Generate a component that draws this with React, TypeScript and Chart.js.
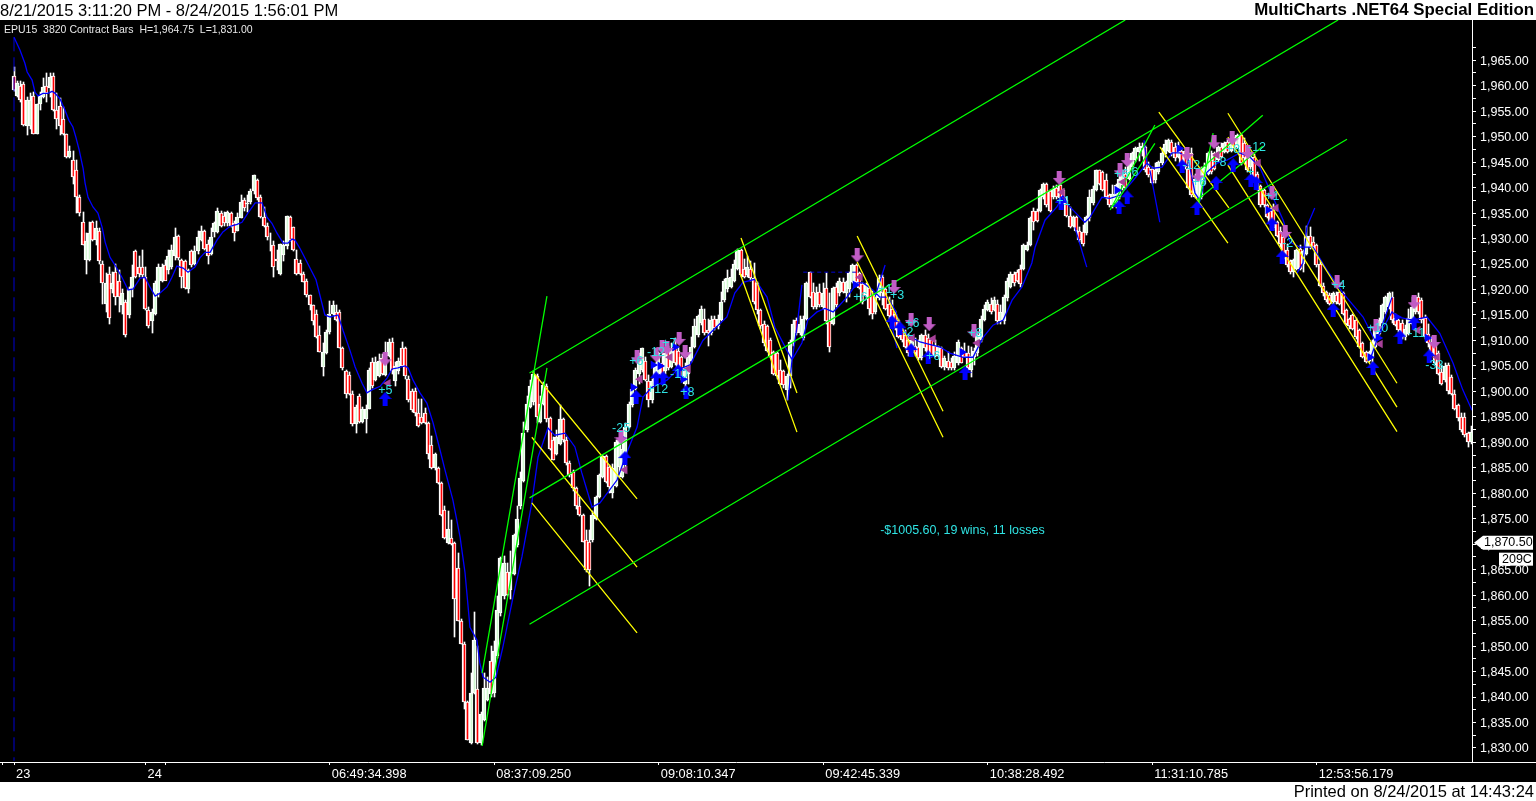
import { useEffect, useRef } from 'react';
import { Chart, registerables } from 'chart.js';

Chart.register(...registerables);

// one row per 10 bars
const opens = [
  1962,1958,1960,1960.25,1952,1952,1958,1950.5,1956.5,1957.75,
  1960,1959.5,1962,1955.25,1956,1953.5,1950.5,1946,1945.5,1943.5,
  1938.25,1933.25,1925.75,1925.75,1933.25,1929.75,1931.5,1925,1917.25,1923,
  1920,1923.5,1921.75,1917,1917.5,1915,1920,1927.5,1924.5,1924.5,
  1922.5,1916,1913.75,1915.25,1919.25,1921.75,1924.75,1923.75,1924.5,1926.5,
  1930.5,1925.75,1925.5,1920,1927.5,1925,1927.5,1929.75,1931.5,1929,
  1927,1931.25,1931.25,1935,1934.5,1933,1935,1933,1931.5,1934,
  1937.5,1936.75,1937.25,1939.25,1941.5,1938.25,1934.25,1932.5,1927.75,1928.75,
  1926,1923,1926.75,1928.5,1934.25,1932.25,1926,1925.25,1923,1921.75,
  1919,1917,1915.25,1911,1904.75,1907.5,1911.75,1915.25,1915.5,1915.5,
  1908.5,1904,1903.25,1899.5,1893.5,1899,1894,1894.5,1896.5,1905.75,
  1902.25,1903,1906.5,1903.25,1907,1909.75,1902,1904,1908.5,1908.5,
  1902.5,1900,1900,1895.75,1895,1895.75,1893.75,1889.5,1885,1885,
  1882,1876.75,1870.25,1871.25,1870.25,1865.25,1855,1850.5,1839,1831,
  1840.75,1841.5,1831,1835.5,1839.5,1847,1840.75,1848,1856.5,1859.75,
  1864.5,1861,1864.25,1869.75,1877.5,1882.5,1892.5,1897,1898,1903,
  1894,1897.5,1901,1894.75,1890.5,1887.75,1889.75,1894.5,1890.5,1886,
  1884.25,1881,1877.5,1875.75,1870.75,1870.5,1870.75,1875,1879.25,1883.25,
  1887.25,1885.25,1880,1881.5,1885.25,1883.25,1887.75,1893,1897.25,1900.5,
  1903.5,1904.25,1906,1902,1898.25,1901.5,1903.5,1905.5,1904,1908.5,
  1904.75,1908.75,1908,1906.75,1901.5,1903.5,1906,1908.75,1911,1913.5,
  1914.25,1912,1911.5,1914.25,1912.75,1914,1918,1920,1920.5,1921.75,
  1924,1927.75,1924,1922.75,1924,1922.25,1921.25,1916,1913.25,1912.75,
  1910,1907.75,1907.5,1904.25,1904,1900.25,1903,1909.5,1914,1911.5,
  1910.5,1914.25,1923.5,1919.5,1916.5,1919.5,1916.5,1920.25,1913.75,1913.25,
  1920.5,1919.25,1921.5,1919.25,1920,1921.5,1924.75,1923.25,1921,1919,
  1920.25,1919,1915.5,1918.25,1922.5,1920,1917.25,1916.25,1915.25,1914,
  1912,1911,1910,1907.75,1909,1908.75,1906.5,1911,1910.5,1910,
  1909,1907,1908.5,1904.75,1906,1905.75,1904.5,1905.5,1908.5,1907.75,
  1907.5,1904.25,1906.75,1907.5,1910,1914,1916,1917.25,1916,1917.25,
  1913.75,1913.75,1918.25,1920.5,1923,1923.5,1924,1924,1927.75,1928.75,
  1935.5,1935.5,1935.5,1938.25,1940.75,1939.25,1938.25,1940,1940.5,1939.5,
  1937.5,1934.5,1932.5,1934.25,1931.5,1931.25,1931,1934,1937,1939.5,
  1943.5,1943,1941.5,1938.5,1936.5,1937,1938.25,1940.5,1942.75,1941.75,
  1944,1945.5,1947,1947.75,1948,1944,1943.75,1941.5,1943,1944.75,
  1946.5,1947.25,1949,1948,1946,1947.25,1947.25,1943.75,1946.75,1938.25,
  1938,1938.25,1940.75,1942.75,1945.5,1946.75,1945.5,1948,1947,1949,
  1947.25,1949.5,1948,1950.25,1948.75,1947,1944,1946,1942.75,1940.25,
  1939.5,1936.5,1935.5,1936.25,1933.25,1931.5,1930.25,1927.75,1925.5,1923.5,
  1924,1928,1925,1927,1930.5,1929.25,1928.75,1925,1920.75,1919.5,
  1919,1917.5,1919,1919.5,1919.25,1916,1914.25,1915,1914,1912,
  1909.5,1907.75,1906,1906.75,1908.75,1911.25,1913.5,1915.5,1916.5,1918.5,
  1914.5,1914,1913.5,1910.75,1911.25,1913.25,1915.5,1918.5,1918,1914.5,
  1911.25,1909.75,1909.5,1907.5,1903.75,1902.25,1905.25,1902.75,1899.5,1897.25,
  1895,1895,1891.75,1890,
];

const closes = [
  1959.25,1960.5,1957.25,1952.25,1957.25,1957.25,1950.5,1956.5,1958,1959.75,
  1958.5,1961.75,1955.25,1953.5,1952,1950.5,1946,1947.25,1942,1938.25,
  1935,1928.75,1929.5,1931,1929.75,1932,1925.5,1921.25,1921.25,1914.5,
  1921.25,1918.5,1918.5,1919.25,1911,1920,1922.5,1922.5,1923,1922.75,
  1916.25,1912.75,1915.5,1921.25,1924.5,1924.5,1921.75,1926.5,1927.75,1930.25,
  1926.25,1922.5,1920.25,1923.75,1924.75,1927.5,1930.25,1931.5,1928,1926.5,
  1930.25,1933,1935.5,1932.5,1933,1935.25,1932.5,1931,1934.25,1937.25,
  1936,1937,1939.25,1942.5,1938,1934.25,1932.5,1930.25,1927.75,1924.5,
  1925.5,1929,1928.75,1934.5,1929.75,1927.75,1923,1923,1921.5,1919,
  1917,1913.75,1910.75,1907.75,1907.75,1911.75,1915.25,1917,1914,1908.5,
  1904.5,1899.5,1899.5,1893.5,1897,1894,1896.5,1896.5,1904.25,1901,
  1905.75,1906,1903.5,1907,1909.75,1904,1905,1906,1905,1903,
  1898.25,1896.25,1895.75,1893.25,1893.75,1893.75,1887.75,1885,1887.75,1882,
  1875.75,1871.25,1873,1870,1859.25,1855,1850.5,1839,1831.5,1840.75,
  1851.25,1831,1836.75,1841.75,1841.75,1840.5,1849,1857,1867.25,1866.25,
  1860,1864.5,1871.75,1875,1883,1891.75,1897.5,1901,1903.5,1895,
  1897.5,1901.25,1894.5,1888.75,1886.5,1891,1894.5,1890.5,1886,1883.5,
  1881,1877.5,1875.75,1870.5,1865,1865,1875.75,1879.25,1883.5,1887.25,
  1882.25,1881.25,1885,1890,1890.5,1888.75,1893,1897.5,1900.5,1904.25,
  1907,1908.5,1902.25,1898.25,1902,1904.75,1907.5,1903,1907.5,1904.5,
  1908,1905.5,1903.5,1903,1904.75,1906.75,1908.75,1912.75,1914.75,1916.25,
  1911.5,1911.5,1914,1912.5,1914.25,1917.5,1921.75,1922.25,1922.5,1925,
  1927.75,1922.75,1922.5,1924.5,1922.25,1917.5,1916,1912.75,1909.5,1908,
  1907,1903.5,1903,1901.5,1901.25,1903,1909.75,1913.25,1911.5,1913.25,
  1914.25,1921.25,1918.5,1916.5,1919.25,1917,1919.25,1913.75,1908.75,1920.25,
  1917,1921.75,1919.5,1921.5,1923.25,1924.75,1921.5,1920.25,1917.5,1921,
  1916.25,1915.25,1919,1922.25,1919.25,1916.25,1914.75,1914,1912.5,1910.75,
  1910,1908.75,1907.5,1910,1907.5,1906.5,1911,1908.5,1907.5,1907,
  1907,1908.75,1904.75,1906.5,1904.5,1904.5,1907,1909.75,1905.5,1906.75,
  1904.5,1907,1908,1911,1914.25,1916.25,1917.5,1915.5,1918,1913.75,
  1915.5,1918.5,1921.75,1923,1921.25,1921.75,1921,1928.75,1928.75,1934,
  1933.25,1933.5,1939.5,1940.75,1936.5,1935.5,1939.75,1938.25,1938,1937.25,
  1934.5,1932.25,1934.25,1931.5,1929.75,1929,1934.25,1938.25,1939.75,1943.5,
  1940.75,1939.5,1938.25,1936.5,1938.75,1940.5,1941.75,1942.75,1940,1944.75,
  1946.75,1947.75,1948,1948.25,1943.5,1942.5,1941,1943.5,1945,1946.75,
  1948.5,1949.25,1946.75,1945.75,1948.25,1944.75,1944,1940,1938.5,1941.75,
  1941.75,1943.5,1944,1946.75,1943,1943.75,1948,1946,1948.75,1947,
  1949.5,1947.75,1950.25,1944.75,1945.75,1943.5,1946.5,1941.5,1939.75,1936.5,
  1936.5,1934.25,1933,1932,1930.5,1929,1926,1924.75,1923.5,1925.75,
  1927.75,1924,1927.5,1930.5,1928.25,1928.25,1924.75,1920.75,1919.25,1918,
  1917.25,1919.25,1917.5,1917.25,1915.25,1913.25,1912.75,1912.25,1910.75,1908.75,
  1906.75,1905.75,1907.75,1909.75,1912.5,1914,1917,1918.5,1919.25,1914,
  1913,1912,1910.75,1912.25,1914.5,1916.5,1918,1915.5,1914,1910.75,
  1909.5,1907.5,1905.5,1903.5,1901.5,1905,1900,1899.5,1896.5,1894.75,
  1892.5,1891.5,1890,1892,
];

const highs = [
  1963.75,1961,1961,1960.75,1957.75,1958.5,1958.75,1956.5,1958.75,1961.5,
  1962.5,1962.5,1962.5,1958.5,1957.5,1955.75,1950.5,1948.25,1947.25,1945.5,
  1938.5,1935.25,1931,1933.25,1933.5,1933.5,1932,1925.5,1923.25,1924.5,
  1923.5,1925,1923.75,1920,1918,1920.5,1924.75,1927.75,1926.5,1927.75,
  1924.5,1916.5,1916.25,1921.75,1925,1925,1925.75,1927.75,1928.75,1932,
  1930.75,1926,1925.75,1924,1927.75,1928.5,1931.5,1932.5,1931.75,1929.75,
  1932,1933.25,1936,1935.5,1935.25,1935.5,1935.25,1933.5,1935,1938.5,
  1938,1938.5,1939.75,1942.5,1941.75,1938.5,1936.25,1933,1931,1929.5,
  1927.75,1929,1929.5,1934.5,1934.5,1932.25,1927.75,1925.75,1923.5,1922,
  1919,1917,1916,1912.75,1909.5,1912,1917.75,1917.75,1917,1916,
  1908.75,1904.25,1903.75,1900,1897.25,1899.5,1897,1897.25,1904.5,1906.5,
  1906.75,1907.25,1907.25,1909.75,1910.25,1910.5,1905.75,1906.5,1909.75,1908.75,
  1903,1900.5,1900.75,1898.5,1898.5,1896.75,1894,1891.25,1888,1885.25,
  1882.25,1877.5,1876.5,1874.75,1870.5,1868.25,1855.25,1850.75,1839.25,1844.75,
  1856.75,1850,1837,1844.75,1844,1850,1851,1859.75,1867.5,1867.75,
  1866.25,1868.75,1872,1877.5,1884.25,1894,1899,1902.25,1904,1903.5,
  1899,1901.75,1901.5,1895,1891,1892.5,1897.25,1894.75,1891,1886.25,
  1884.5,1881.25,1879.25,1876,1872.75,1872.75,1876.5,1879.5,1883.75,1887.5,
  1887.5,1885.5,1885.75,1890.5,1890.75,1890.5,1893.75,1898,1901,1904.5,
  1907.5,1908.5,1906.75,1903.25,1902.5,1905.5,1907.75,1908.75,1908.75,1909,
  1909.5,1910.5,1908.75,1907,1905.5,1907.5,1910.75,1914.25,1915,1916.75,
  1916.25,1914.25,1914.75,1914.75,1915,1919.5,1922,1923.75,1924,1925.75,
  1928,1928,1926,1926.5,1925.5,1925.25,1921.5,1916.25,1913.75,1913,
  1910.5,1908,1907.75,1906.25,1904.25,1903.5,1910,1914,1914.5,1914.75,
  1914.75,1921.5,1923.5,1921.25,1920.5,1921,1921.25,1923.25,1919.25,1920.5,
  1921.25,1922.25,1922.25,1921.75,1923.5,1925,1925,1923.5,1921.25,1921.25,
  1920.5,1919.75,1919.25,1922.75,1922.75,1920.25,1918.5,1918,1915.75,1914.25,
  1912.25,1912,1911.25,1910.75,1910.5,1910,1911.25,1912,1911.25,1910.5,
  1910,1909,1908.75,1907,1907.75,1906.5,1907.75,1910,1908.75,1909.5,
  1909,1908.75,1908.5,1911.75,1914.75,1917,1918,1918.25,1918.5,1918,
  1917,1919,1922.25,1923.5,1923.5,1923.75,1924.75,1929,1929.25,1934.25,
  1936,1935.75,1939.75,1941,1941,1939.5,1940.25,1940.5,1940.75,1939.75,
  1938.25,1936.25,1934.5,1934.5,1932.25,1932.75,1934.5,1939.5,1940.25,1943.5,
  1943.5,1943.25,1942.75,1938.75,1940.5,1940.75,1943.5,1943.5,1944,1945.75,
  1947,1948,1948.75,1948.75,1948.25,1945,1944,1944.75,1945.25,1947.75,
  1949.25,1949.5,1949.25,1948.75,1949,1947.75,1947.75,1945.5,1947.75,1942.75,
  1943.5,1944,1944.75,1947,1947.25,1947,1948.25,1948.75,1949,1949.25,
  1950,1950,1950.5,1950.5,1949.75,1947.25,1946.75,1946.5,1943,1940.5,
  1939.75,1936.75,1936,1936.75,1933.5,1932.25,1930.75,1929,1925.75,1926,
  1928,1928.75,1927.75,1932.5,1932.25,1930.25,1929,1925.5,1921.25,1919.75,
  1919.25,1919.5,1919.5,1919.75,1919.5,1916.25,1914.5,1915.25,1914.5,1912.25,
  1909.75,1908,1908,1910,1913,1914.5,1917.25,1918.75,1919.5,1919.5,
  1915.25,1914.25,1914,1913,1916.25,1918.5,1918.75,1919.25,1918.25,1915,
  1913.25,1910.75,1909.75,1908,1905.25,1905.5,1905.5,1903.25,1900.25,1897.5,
  1895.75,1895.75,1892,1893.25,
];

const lows = [
  1959,1957.75,1956.75,1952,1950.25,1951.5,1950.5,1950.5,1955.25,1957.5,
  1956.75,1957.75,1955,1951.5,1950.25,1950.25,1945.75,1945.75,1940.75,1935,
  1934.5,1928.75,1923,1925.5,1929.5,1928.75,1925,1917.25,1915.5,1913.25,
  1919.25,1917,1915.5,1915.25,1910.75,1914.5,1918.5,1922.25,1922.5,1922.5,
  1916,1912.5,1911.5,1915,1918.5,1921.5,1922.25,1923,1924,1925.75,
  1925.75,1920.25,1920,1919.25,1924.5,1924.75,1927,1929.5,1927.75,1925,
  1926.75,1930.25,1931,1932.25,1932.5,1932.5,1932.25,1929.5,1931.5,1934,
  1935.5,1935.25,1936.75,1938.75,1937.5,1934,1932.25,1929.75,1927.5,1922.5,
  1923.75,1922.75,1925.5,1928,1929.5,1927.5,1922.75,1922.75,1921.5,1918.5,
  1916,1913,1910.5,1907.75,1903,1907.25,1911.25,1915,1913.75,1908.5,
  1904.25,1898.75,1899.25,1893.25,1891.75,1893.75,1893.75,1891.75,1896.5,1900.75,
  1902,1902.75,1903.25,1903,1906.75,1903.5,1901,1903.5,1905,1902.5,
  1898,1896,1895.25,1893,1893.5,1893.5,1886.75,1884.75,1884.5,1881.75,
  1875.5,1871,1870,1869.75,1851.75,1855,1850.5,1837.75,1831.5,1830.75,
  1840.5,1830.75,1830.5,1835.25,1839.25,1840,1840,1847.75,1856,1859.25,
  1859.75,1859.25,1864,1869.5,1877,1882.25,1892,1896.75,1897.25,1893.75,
  1893.75,1897.25,1894,1888.5,1886.5,1887.5,1889.5,1890,1885.5,1883.25,
  1880.5,1877,1875.5,1870.5,1864.5,1861.75,1870.5,1874.75,1879,1883,
  1882,1880,1879,1881.25,1883.25,1883,1884,1892.75,1897,1900.25,
  1901.5,1903.75,1902,1897,1897.75,1901.25,1903.25,1902.5,1903.5,1904.25,
  1904.5,1905.25,1903.25,1902.25,1900.75,1901.5,1905.75,1908.5,1910.75,1913,
  1911,1909,1911,1912,1912.25,1913.75,1917.5,1919.5,1920.25,1921.5,
  1923.75,1922.5,1922.25,1922.5,1921.75,1917.25,1915.25,1912.25,1909,1907.75,
  1906.75,1903.25,1902.5,1901.25,1900.75,1898.25,1900.75,1909,1911,1911,
  1910,1914,1918.25,1916.25,1916.25,1916.5,1916.25,1913.25,1907.75,1913,
  1916.5,1918.75,1919.25,1917.5,1918.5,1921.25,1921.25,1920,1917.25,1918.5,
  1915,1914.25,1915.25,1918,1917,1916,1914.25,1912.75,1912,1910.5,
  1909.75,1908.5,1907,1907.5,1907,1906.25,1906.25,1908,1907,1906.75,
  1906.75,1906.75,1904.5,1904.25,1904.25,1904.25,1904.25,1905.25,1905.5,1906.75,
  1904.25,1902.75,1905.25,1907,1909.75,1913.75,1915.75,1915.25,1915.75,1913.25,
  1913.25,1913.25,1917.75,1920.25,1920.75,1921.5,1920.5,1923.75,1927.5,1928.5,
  1931.75,1933.25,1935.25,1937.75,1936.25,1935.25,1937.75,1937.75,1937.5,1936.75,
  1934.25,1932,1932.25,1931.25,1929.25,1928.5,1930.75,1933.5,1936.5,1939.25,
  1940.5,1939.25,1937.75,1936.25,1936,1936,1937.75,1939.5,1939.75,1941.5,
  1943.75,1945,1945.25,1946.25,1943,1942,1940.75,1941,1942.75,1944.5,
  1946,1947,1946.25,1945.25,1945.75,1944.5,1943.75,1939.75,1938.25,1938,
  1937.5,1937.75,1940.5,1942.5,1942.75,1943.5,1945,1945.75,1946.75,1946.75,
  1947,1947.25,1947.75,1944.5,1945.25,1943,1943.75,1941.25,1939.5,1936.25,
  1936.25,1934,1932.75,1931.75,1930.25,1928.25,1925.75,1924.5,1923,1922.5,
  1923.75,1923.75,1923.5,1926.75,1928,1928,1924.5,1920.5,1918.75,1917.5,
  1917,1917.25,1917.25,1917,1915,1913,1912.25,1912,1910.25,1908.5,
  1906.5,1905.5,1905.75,1905.25,1908.5,1911,1913.25,1915.25,1916.25,1913.5,
  1912.75,1911.75,1910.25,1910,1911,1913,1915.25,1915.25,1913.5,1910.25,
  1908.75,1907,1905.25,1903.25,1901.25,1901.75,1899.5,1899.25,1896.25,1894.25,
  1892,1891,1889,1889.75,
];

const priceTicks = [
  1830,1832.5,1835,1837.5,1840,1842.5,1845,1847.5,1850,1852.5,1855,1857.5,1860,1862.5,1865,1867.5,
  1870,1872.5,1875,1877.5,1880,1882.5,1885,1887.5,1890,1892.5,1895,1897.5,1900,1902.5,1905,1907.5,
  1910,1912.5,1915,1917.5,1920,1922.5,1925,1927.5,1930,1932.5,1935,1937.5,1940,1942.5,1945,1947.5,
  1950,1952.5,1955,1957.5,1960,1962.5,1965,1967.5,
];
const timeTicks = [-3.65, 0, 40, 46, 96, 146, 196, 246, 296, 346, 396];
const timeLabels = ['', '23', '24', '', '06:49:34.398', '08:37:09.250', '09:08:10.347', '09:42:45.339', '10:38:28.492', '11:31:10.785', '12:53:56.179'];

const avgX = [
  0,1.8,3.3,4,5.5,6.4,7.3,8.8,10.3,11.6,12.5,14,15.5,16.7,17.9,18.8,19.8,21,21.6,22.5,24,25.5,26.8,27.7,29.2,30.7,32.8,34.7,36.2,38.3,39.8,41.3,42.9,44.4,46.5,48,49.5,51.4,52.9,55,56.5,58.1,59.6,61.7,63.5,65.7,67.8,69.3,71.1,73.3,75.4,76.9,78.4,79.9,81.8,83.3,84.5,85.4,86.9,91.8,93.6,94.5,96.1,98.5,100,102.1,103.7,105.8,107.3,108.8,111.3,113.4,114.9,116.7,118.9,119.8,121.3,123.4,125.5,127.4,129.5,131,133.4,135.6,137.1,138.6,140.7,141.6,142.6,144.7,146.5,148.6,151.7,154.4,157.4,159.3,162.3,164.4,167.5,170.5,172.6,175.7,178.1,183.3,186.6,189.4,191.2,193.9,198.5,201.5,205.5,209.4,212.5,216.7,219.1,221.6,225.2,228.9,231.3,234.9,236.5,239.5,241.3,244.1,246.5,249,251.1,253.2,256.3,258.1,261.1,263.2,265.4,267.8,269.3,271.4,275.4,281.5,284.5,288.5,291.5,294.6,297.6,300.7,303.4,306.4,309.4,310.4,313.4,317,318.9,320.4,323.4,325.5,327.1,330.7,333.2,336.2,339.8,343.2,344.4,346.2,349,352,354.4,356.9,359,360.5,362.6,365.7,368.7,372.6,375.7,378.7,382.7,385.8,387.9,390.9,394.9,399.1,404,410.1,413.7,415.8,418.9,420.4,425.2,429.5,433.4,437.4,440.4,443.2,
  null,235.3,236.5,238,239.5,null,261.7,264.8,null,266.3,268.4,null,322.5,326.1,null,343.5,344.4,null,345.3,348.3,null,390,391.8,393,395.4,null,412.2,418.9,
];
const avgY = [
  1969.5,1967,1964.4,1962.7,1961.1,1958.7,1958,1958.5,1958.5,1958.9,1958.5,1957.4,1955.2,1953.2,1951.9,1949.9,1947.4,1943.8,1940.9,1938.1,1936.2,1935,1932.2,1929.3,1926.3,1924.8,1922.4,1919.9,1920.1,1922.2,1922.4,1920.5,1918.7,1919.3,1920.5,1922.4,1924.6,1924.2,1923.4,1924.4,1926.2,1927.3,1927.3,1929.7,1931.3,1932.4,1932.8,1933.2,1935,1937,1937,1934.2,1933,1931.1,1929.1,1929.1,1929.9,1929.7,1928.1,1921.9,1917.3,1915,1914.6,1915,1912,1908.1,1904.8,1901.6,1899.7,1900.3,1901,1902.6,1904.4,1904.6,1905,1904.6,1902.2,1899.7,1897.7,1893.8,1888.5,1884.6,1878.7,1871.4,1864.4,1853.7,1851.2,1846.7,1843.9,1842.9,1843.9,1849.8,1859.6,1867.5,1878.1,1887.1,1892.8,1891.4,1891.8,1889.1,1884,1877.3,1878.1,1882.6,1888.5,1893,1898.9,1900.8,1902.2,1904.2,1905.2,1910,1912,1914.6,1919.3,1921.4,1922,1918.5,1912.6,1908.1,1906.2,1909.5,1914,1915.6,1916.3,1915.6,1917,1918.5,1921.3,1921.3,1919.9,1918.5,1918.5,1916,1913.4,1911.1,1909.7,1908.7,1907.5,1906.7,1906.7,1910.6,1913,1914,1917.9,1920.5,1925.2,1928.3,1933.6,1936.2,1938.5,1936.6,1934.6,1933.2,1934.2,1938.1,1937.9,1938.5,1941.1,1943.8,1944.8,1943.8,1944,1946.8,1946.8,1945.8,1938.9,1937.5,1943,1944.8,1945.4,1946.8,1946,1944,1938.1,1933.6,1929.3,1928.3,1928.3,1923.8,1919.3,1914.6,1910,1912,1915.6,1914.6,1914,1914.6,1911.4,1905.6,1900.3,1896.3,
  null,1898.3,1906.2,1912.6,1920.9,null,1918.5,1924.8,null,1914.6,1908.5,null,1932.2,1924.4,null,1949.3,1944.8,null,1943.4,1933.2,null,1923.2,1925.2,1932.3,1936,null,1906.2,1918.5,
];

const greenX = [156.7,337.8,null,156.7,402.5,null,156.7,405.2,null,142.3,162,null,142.3,162,null,333.2,346.8,null,334.1,346.8,null,359.6,379.6,null,359.6,379.6,null,359.6,364.5];
const greenY = [1903.6,1972.9,null,1879.1,1972.9,null,1854.3,1949.5,null,1844.7,1918.7,null,1830.4,1904.6,null,1935.6,1952.3,null,1936.2,1948.7,null,1943,1954.2,null,1937.5,1948.1,null,1935,1950.7];
const yellowX = [157.7,189.4,null,157.4,189.4,null,157.4,189.4,null,221,238,null,220.7,238,null,256.3,282.4,null,256.3,282.4,null,348,369.3,null,348.3,369,null,369,420.4,null,369,420.4,null,369,420.4];
const yellowY = [1903.8,1878.9,null,1891,1865.5,null,1878.1,1852.6,null,1930.1,1899.7,null,1923.2,1892,null,1930.5,1896.1,null,1925.4,1891,null,1954.8,1936,null,1948,1929.1,null,1954.6,1901.6,null,1949.9,1896.9,null,1944.4,1892.1];

const sellX = [112.8,184.5,189.4,195.2,197,198.5,202.2,204,256.3,267.5,272.7,278.2,291.8,317.7,336.2,338.4,356.6,359.9,364.8,370.3,375.1,382.4,386.4,402.2,414,425.6,431.7];
const sellY = [1906.3,1891,1906.7,1907.1,1908.7,1908.5,1910.3,1907.7,1926.7,1920.5,1914,1913.2,1911.8,1941.9,1943.4,1945.4,1946.6,1942.4,1948.9,1949.7,1947,1938.9,1931.3,1921.4,1912.8,1917.5,1909.7];
const buyX = [112.8,185.7,189.1,195.2,197.3,201.9,204.3,266.9,269.3,272.7,277.9,289.1,318.3,335.9,338.4,355.1,359.6,365.4,370.6,376,377.6,382.4,385.5,401,413.1,421.3,425.6,430.2];
const buyY = [1898.5,1886.9,1898.9,1902.6,1902.6,1904,1899.9,1913.6,1912.4,1908.1,1906.7,1903.6,1937,1936.2,1938.1,1944.2,1936,1940.9,1944.4,1941.5,1940.9,1932.8,1926.4,1916,1904.6,1910.7,1913.4,1906.9];
const exitSellX = [113.7,190.3,185.7,199.4,204.9,257.2,273,279.4,292.8,318.6,337.1,365.7,378.2,383.6,415.3,426.8,432.6];
const exitSellY = [1901.6,1902.4,1884.6,1906.7,1904.4,1922.4,1910.5,1910.3,1909.5,1939.1,1941.1,1946.4,1944.8,1936,1909.3,1912,1906.7];
const exitBuyX = [188.2,184.8,194.3,196.4,200.9,203.4,255.7,288.2,335.3,354.2,381.2,412.2,414.7,420.4,429.6];
const exitBuyY = [1900.8,1890.8,1905.2,1905,1908.7,1902.4,1920.9,1907.7,1939.5,1947.7,1935.6,1906.7,1910.5,1914.6,1910.5];

const tradeText = ['+5','-25','+6','-12','+7','-10','+12','+8','+6','+1','+3','+6','-2','+6','+8','+1','+6','-6','-12','+6','+8','+8','-12','+1','+','-2','+4','+10','-11','-33'];
const tradeX = [110.7,181.8,187,192.4,197,199.4,192.4,202.5,255.1,262.7,266.3,270.9,270,277.2,290,316.8,334.4,338.4,355.1,358.1,364.2,368.4,375.1,380.3,374.8,385.5,400.4,411.3,423.8,429];
const tradeY = [1900.2,1892.8,1905.8,1907.7,1909.3,1903.4,1900.4,1899.7,1918.5,1919.9,1918.9,1913.4,1911.6,1906.9,1911.4,1937.3,1942.6,1943,1944.4,1940.9,1945,1947.4,1947.9,1938.3,1943,1929.1,1920.7,1912.4,1911.4,1905];

const lastPrice = 1870.5;
const HEADER = 'EPU15  3820 Contract Bars  H=1,964.75  L=1,831.00';
const SUMMARY = '-$1005.60, 19 wins, 11 losses';

const zip = (xs: (number | null)[], ys: (number | null)[]) => xs.map((x, i) => ({ x, y: ys[i] }));

function arrowImage(color: string, up: boolean) {
  const c = document.createElement('canvas');
  c.width = 13;
  c.height = 14;
  const g = c.getContext('2d')!;
  if (!up) {
    g.translate(0, 14);
    g.scale(1, -1);
  }
  g.fillStyle = color;
  g.beginPath();
  g.moveTo(6.5, 0);
  g.lineTo(13, 7);
  g.lineTo(9, 7);
  g.lineTo(9, 14);
  g.lineTo(4, 14);
  g.lineTo(4, 7);
  g.lineTo(0, 7);
  g.closePath();
  g.fill();
  return c;
}

// snap bars to whole pixels, the original is drawn without antialiasing
const snapBars = {
  id: 'snapBars',
  beforeDatasetsDraw(chart: any) {
    chart.data.datasets.forEach((ds: any, i: number) => {
      if (ds.type !== 'bar') return;
      chart.getDatasetMeta(i).data.forEach((bar: any) => {
        bar.x = Math.floor(bar.x) + (bar.width % 2 ? 0.5 : 0);
        bar.y = Math.round(bar.y);
        bar.base = Math.round(bar.base);
      });
    });
  },
};

const overlayText = {
  id: 'overlayText',
  afterDraw(chart: any) {
    const { ctx, scales } = chart;
    ctx.save();
    ctx.textBaseline = 'middle';
    ctx.textAlign = 'left';
    ctx.font = '12.5px "Liberation Sans"';
    ctx.fillStyle = '#2fe3e3';
    tradeText.forEach((t, i) => {
      ctx.fillText(t, scales.x.getPixelForValue(tradeX[i]), scales.y.getPixelForValue(tradeY[i]));
    });
    ctx.fillText(SUMMARY, scales.x.getPixelForValue(263.3), scales.y.getPixelForValue(1872.6));

    ctx.font = '10.5px "Liberation Sans"';
    ctx.fillStyle = '#e8e8e8';
    ctx.fillText(HEADER, 4, 30);

    // last price flag
    const py = scales.y.getPixelForValue(lastPrice) + 1;
    ctx.fillStyle = '#fff';
    ctx.beginPath();
    ctx.moveTo(1474, py);
    ctx.lineTo(1483, py - 7);
    ctx.lineTo(1533, py - 7);
    ctx.lineTo(1533, py + 7);
    ctx.lineTo(1483, py + 7);
    ctx.closePath();
    ctx.fill();
    ctx.fillRect(1499, py + 10, 34, 13);
    ctx.fillStyle = '#000';
    ctx.font = '12.5px "Liberation Sans"';
    ctx.fillText('1,870.50', 1484, py);
    ctx.fillText('209C', 1502, py + 17);
    ctx.restore();
  },
};

export default function App() {
  const canvasRef = useRef<HTMLCanvasElement>(null);

  useEffect(() => {
    if (!canvasRef.current) return;
    document.body.style.margin = '0';

    const wicks = opens.map((_, i) => ({ x: i, y: [lows[i], highs[i]] }));
    const bodies = opens.map((o, i) => ({ x: i, y: [o, closes[i]] }));
    const bodyColors = opens.map((o, i) => (closes[i] < o ? '#ff0000' : '#d0f8d0'));

    const marker = (data: any, style: any, color: string, radius: number, rotation = 0) => ({
      type: 'line' as const,
      data,
      showLine: false,
      pointStyle: style,
      pointRadius: radius,
      pointRotation: rotation,
      pointBackgroundColor: color,
      pointBorderWidth: 0,
      order: 1,
    });
    const segments = (data: any, color: string, width: number, order: number, dash: number[] = []) => ({
      type: 'line' as const,
      data,
      borderColor: color,
      borderWidth: width,
      borderDash: dash,
      pointRadius: 0,
      tension: 0,
      spanGaps: false,
      order,
    });

    const chart = new Chart(canvasRef.current, {
      type: 'bar',
      data: {
        datasets: [
          segments(zip(greenX, greenY), '#00ff00', 1.3, 2),
          segments(zip(yellowX, yellowY), '#ffff00', 1.3, 2),
          segments(zip(avgX, avgY), '#0000ff', 1.3, 3),
          segments(zip([0, 0], [1969.5, 1827.5]), '#0000d0', 1, 3, [14, 6]),
          segments(zip([239.9, 256], [1923.4, 1923.4]), '#0000d0', 1, 3, [4, 3]),
          marker(zip(sellX, sellY), arrowImage('#c05cc4', false), '#c05cc4', 6),
          marker(zip(buyX, buyY), arrowImage('#0000ff', true), '#0000ff', 6),
          marker(zip(exitSellX, exitSellY), 'triangle', '#a8409a', 5, 270),
          marker(zip(exitBuyX, exitBuyY), 'triangle', '#0000ff', 5, 90),
          {
            type: 'bar' as const,
            data: bodies,
            backgroundColor: bodyColors,
            borderColor: '#ffffff',
            borderWidth: { top: 1, bottom: 1, left: 2, right: 1 },
            borderSkipped: false,
            barThickness: 4,
            grouped: false,
            order: 4,
          },
          {
            type: 'bar' as const,
            data: wicks,
            backgroundColor: '#ffffff',
            borderWidth: 0,
            barThickness: 1,
            grouped: false,
            order: 5,
          },
        ] as any,
      },
      options: {
        responsive: false,
        animation: false,
        devicePixelRatio: 1,
        layout: { autoPadding: false, padding: { top: 20, bottom: 19, left: 0, right: 0 } },
        plugins: { legend: { display: false }, tooltip: { enabled: false } },
        scales: {
          x: {
            type: 'linear',
            min: -4.26,
            max: 443.2,
            offset: false,
            afterFit: (s: any) => {
              s.height = 20;
              s.paddingLeft = 0;
              s.paddingRight = 0;
            },
            afterBuildTicks: (s: any) => { s.ticks = timeTicks.map((value) => ({ value })); },
            grid: { offset: false, drawOnChartArea: false, color: '#ffffff', tickLength: 3 },
            border: { color: '#ffffff' },
            ticks: {
              autoSkip: false,
              maxRotation: 0,
              align: 'start',
              labelOffset: 2,
              padding: 2,
              color: '#ffffff',
              font: { family: '"Liberation Sans"', size: 12.8 },
              callback: (value: any) => timeLabels[timeTicks.indexOf(Number(value))] ?? '',
            },
          },
          y: {
            type: 'linear',
            position: 'right',
            min: 1827.25,
            max: 1972.9,
            afterFit: (s: any) => { s.width = 64; },
            afterBuildTicks: (s: any) => { s.ticks = priceTicks.map((value) => ({ value })); },
            grid: { drawOnChartArea: false, color: '#ffffff', tickLength: 4 },
            border: { color: '#ffffff' },
            ticks: {
              autoSkip: false,
              padding: 4,
              labelOffset: 1,
              color: '#ffffff',
              font: { family: '"Liberation Sans"', size: 12.5 },
              callback: (value: any) => (Number(value) % 5 === 0
                ? Number(value).toLocaleString('en-US', { minimumFractionDigits: 2 })
                : ''),
            },
          },
        },
      } as any,
      plugins: [snapBars, overlayText],
    });

    return () => {
      chart.destroy();
    };
  }, []);

  const barText = { position: 'absolute' as const, font: '16.5px "Liberation Sans"', color: '#000', whiteSpace: 'pre' as const };

  return (
    <div style={{ position: 'relative', width: 1536, height: 801, background: '#fff', overflow: 'hidden' }}>
      <div style={{ position: 'absolute', left: 0, top: 20, width: 1536, height: 762, background: '#000' }} />
      <div style={{ position: 'absolute', left: 1472, top: 762, width: 64, height: 1, background: '#fff' }} />
      <canvas ref={canvasRef} width={1536} height={801} style={{ position: 'absolute', left: 0, top: 0, display: 'block' }} />
      <div style={{ ...barText, left: 0, top: 1 }}>8/21/2015 3:11:20 PM - 8/24/2015 1:56:01 PM</div>
      <div style={{ ...barText, right: 2, top: 0, fontSize: 16.85, fontWeight: 'bold' }}>MultiCharts .NET64 Special Edition</div>
      <div style={{ ...barText, right: 2, top: 782 }}>Printed on 8/24/2015 at 14:43:24</div>
    </div>
  );
}
